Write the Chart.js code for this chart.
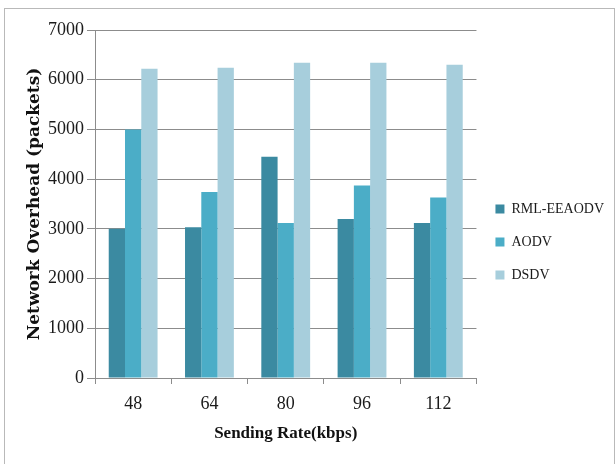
<!DOCTYPE html>
<html>
<head>
<meta charset="utf-8">
<script src="https://cdn.jsdelivr.net/npm/chart.js@4.4.0/dist/chart.umd.min.js"></script>
<style>
  html, body { margin: 0; padding: 0; background: #fff; }
  .frame { position: absolute; left: 4px; top: 8px; width: 609px; height: 470px; border: 1px solid #b9b9b9; border-bottom: none; }
  .wrap { position: absolute; left: 0; top: 0; width: 616px; height: 464px; }
</style>
</head>
<body>
<div class="frame"></div>
<div class="wrap"><canvas id="chartOverhead" width="616" height="464"></canvas></div>
<script>
// Données
const rates = ['48', '64', '80', '96', '112'];
const rmlEeaodv = [3000, 3030, 4450, 3200, 3120];
const aodv = [5000, 3740, 3120, 3870, 3630];
const dsdv = [6220, 6240, 6340, 6340, 6300];
const yTicks = [0, 1000, 2000, 3000, 4000, 5000, 6000, 7000];

const gridGray = '#8c8c8c';
const serif = "'Liberation Serif', 'Times New Roman', serif";

new Chart(document.getElementById('chartOverhead'), {
  type: 'bar',
  data: {
    labels: rates,
    datasets: [
      { label: 'RML-EEAODV', data: rmlEeaodv, backgroundColor: '#3b8aa1' },
      { label: 'AODV', data: aodv, backgroundColor: '#4badc7' },
      { label: 'DSDV', data: dsdv, backgroundColor: '#a7cedc' }
    ]
  },
  options: {
    responsive: false,
    animation: false,
    datasets: { bar: { categoryPercentage: 0.64, barPercentage: 1.0 } },
    layout: { padding: { left: 14, top: 30, right: 2, bottom: 10 } },
    plugins: {
      tooltip: { enabled: false },
      legend: {
        position: 'right',
        align: 'center',
        labels: { boxWidth: 9, boxHeight: 9, padding: 19, color: '#1a1a1a', font: { family: serif, size: 14 } }
      }
    },
    scales: {
      x: {
        grid: { display: true, drawOnChartArea: false, drawTicks: true, tickLength: 6, color: gridGray },
        border: { display: true, color: gridGray },
        ticks: { color: '#1a1a1a', padding: 9, font: { family: serif, size: 18 } },
        title: { display: true, text: 'Sending Rate(kbps)', color: '#111', padding: { top: 0, bottom: 10 }, font: { family: serif, size: 17, weight: 'bold' } }
      },
      y: {
        min: 0,
        max: 7000,
        afterBuildTicks: s => { s.ticks = yTicks.map(v => ({ value: v })); },
        grid: { color: gridGray, tickLength: 8 },
        border: { display: true, color: gridGray },
        ticks: { color: '#1a1a1a', padding: 3, font: { family: serif, size: 18 }, callback: v => String(v) },
        title: { display: true, text: 'Network Overhead (packets)', color: '#111', padding: { top: 10.6, bottom: 0 }, font: { family: "'DejaVu Serif', serif", size: 17, weight: 'bold' } }
      }
    }
  }
});
</script>
</body>
</html>
